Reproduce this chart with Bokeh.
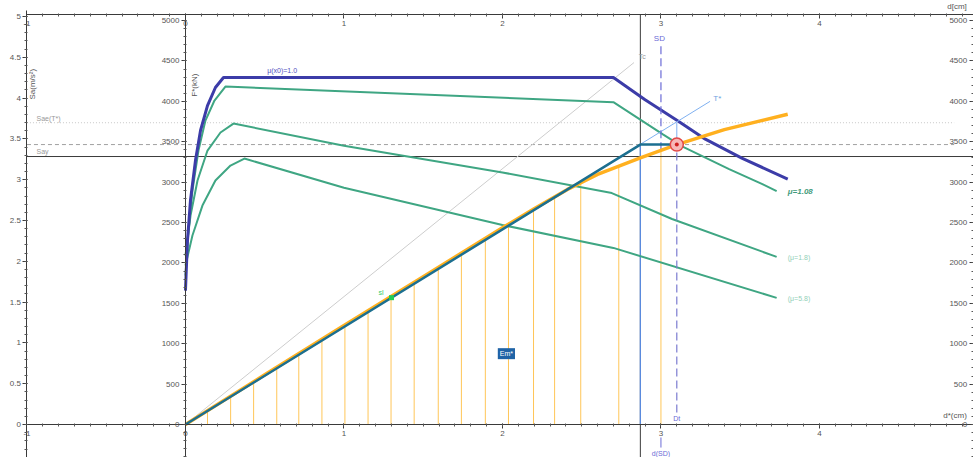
import numpy as np
from bokeh.plotting import figure
from bokeh.models import LinearAxis, Range1d, Label, FixedTicker, CustomJSTickFormatter
from bokeh.embed import file_html
from bokeh.resources import INLINE

# ---------------- data ----------------
x_ticks = [-1, 0, 1, 2, 3, 4]
x_minor = [round(v, 1) for v in np.arange(-1.0, 4.95, 0.1)]
sa_ticks = [0, 0.5, 1, 1.5, 2, 2.5, 3, 3.5, 4, 4.5, 5]
sa_minor = [round(v, 1) for v in np.arange(-0.4, 5.05, 0.1)]
f_ticks = [0, 500, 1000, 1500, 2000, 2500, 3000, 3500, 4000, 4500, 5000]
f_minor = list(range(-400, 5001, 100))

# capacity curves: d* (cm), F* (kN)
navy_d = [0, 0.0126, 0.0315, 0.063, 0.095, 0.139, 0.189, 0.240, 2.70, 2.90, 3.11, 3.28, 3.51, 3.80]
navy_F = [1658, 2277, 2772, 3267, 3639, 3948, 4171, 4295, 4295, 4020, 3754, 3532, 3297, 3038]
g1_d = [0, 0.019, 0.044, 0.082, 0.126, 0.183, 0.252, 2.70, 3.01, 3.13, 3.43, 3.64, 3.73]
g1_F = [1844, 2401, 2896, 3391, 3762, 4010, 4183, 3990, 3594, 3446, 3162, 2976, 2890]
g2_d = [0, 0.032, 0.076, 0.139, 0.221, 0.303, 1.0, 2.0, 2.69, 3.07, 3.73]
g2_F = [2092, 2587, 3020, 3391, 3614, 3725, 3450, 3120, 2865, 2544, 2075]
g3_d = [0, 0.044, 0.107, 0.189, 0.284, 0.372, 1.0, 2.0, 2.70, 3.73]
g3_F = [1968, 2339, 2710, 3020, 3205, 3292, 2930, 2470, 2186, 1568]

orange_d = [0, 0.5, 1.0, 1.5, 2.0, 2.2, 2.41, 2.6, 2.87, 3.10, 3.4, 3.8]
orange_F = [0, 615, 1225, 1830, 2435, 2670, 2910, 3095, 3300, 3465, 3650, 3840]
hatch_d = [0.139, 0.285, 0.430, 0.576, 0.715, 0.861, 1.006, 1.152, 1.297, 1.443,
           1.595, 1.741, 1.892, 2.038, 2.196, 2.329, 2.494, 2.734, 3.0]

d_y, F_y = 2.87, 3465          # bilinear yield point
d_t, F_t = 3.10, 3465          # performance point
d_SD = 3.0
F_SD_top = 4690
F_Sae = 3735
F_Say = 3317
tc_d, tc_F = [0, 2.83], [0, 4480]
tstar_d, tstar_F = [0, 3.31], [0, 4000]
sl_d, sl_F = 1.30, 1570

# ---------------- figure ----------------
X0, X1 = -1.167, 4.972
Y0, Y1 = -408, 5248
p = figure(width=973, height=457, x_range=Range1d(X0, X1), y_range=Range1d(Y0, Y1),
           output_backend="svg", toolbar_location=None, min_border=0,
           x_axis_type=None, y_axis_type=None)
p.outline_line_color = None
p.background_fill_color = "white"
p.extra_y_ranges = {"sa": Range1d(-0.404, 5.196)}

FONT = "Liberation Sans"
TOPF = 5074


def style(ax):
    ax.axis_line_color = "#3a3a3a"
    ax.major_tick_line_color = "#3a3a3a"
    ax.minor_tick_line_color = "#555555"
    ax.major_label_text_font_size = "8px"
    ax.major_label_text_color = "#555555"
    ax.major_label_text_font = FONT
    ax.major_tick_out = 4
    ax.major_tick_in = 1
    ax.minor_tick_out = 2
    ax.minor_tick_in = 1
    ax.major_label_standoff = 2
    ax.formatter = CustomJSTickFormatter(code="return tick.toString()")


sa_ax = LinearAxis(y_range_name="sa", fixed_location=-1.0,
                   ticker=FixedTicker(ticks=sa_ticks, minor_ticks=sa_minor), bounds=(-0.41, 5.07))
style(sa_ax)
p.add_layout(sa_ax, "left")

for loc in [0.0, 4.97]:
    fa = LinearAxis(fixed_location=loc, ticker=FixedTicker(ticks=f_ticks, minor_ticks=f_minor),
                    bounds=(Y0, TOPF))
    style(fa)
    p.add_layout(fa, "left")

for loc in [0.0, TOPF]:
    xa = LinearAxis(fixed_location=loc, ticker=FixedTicker(ticks=x_ticks, minor_ticks=x_minor),
                    bounds=(-1.0, 4.97))
    style(xa)
    p.add_layout(xa, "below")

# hatch of Em*
hatch_top = np.interp(hatch_d, orange_d, orange_F)
p.segment(x0=hatch_d, y0=[0] * len(hatch_d), x1=hatch_d, y1=hatch_top,
          line_color="#ffc658", line_width=1)

# horizontal reference lines
p.segment(x0=[-1.0], y0=[F_Sae], x1=[4.85], y1=[F_Sae], line_color="#c8c8c8",
          line_width=1, line_dash="1 2")
p.segment(x0=[-1.0], y0=[F_y], x1=[4.85], y1=[F_y], line_color="#a0a0a0",
          line_width=1, line_dash="4 3")
p.segment(x0=[-1.0], y0=[F_Say], x1=[4.97], y1=[F_Say], line_color="#3a3a3a", line_width=1)

# Tc line
p.line(tc_d, tc_F, line_color="#cdcdcd", line_width=1)

# vertical at yield displacement
p.segment(x0=[d_y], y0=[Y0], x1=[d_y], y1=[TOPF], line_color="#3a3a3a", line_width=1)
p.segment(x0=[d_y], y0=[0], x1=[d_y], y1=[F_y], line_color="#5b8ee6", line_width=1.2)

# capacity curves
for dd, ff in [(g3_d, g3_F), (g2_d, g2_F), (g1_d, g1_F)]:
    p.line(dd, ff, line_color="#3fa683", line_width=2)
p.line(navy_d, navy_F, line_color="#3c3ca8", line_width=3)

# T* line
p.line(tstar_d, tstar_F, line_color="#7fb0f0", line_width=1)

# SD dashed and Dt dashed
F_SD_bot = float(np.interp(d_SD, orange_d, orange_F))
p.segment(x0=[d_SD], y0=[F_SD_bot], x1=[d_SD], y1=[F_SD_top], line_color="#6b6bd6",
          line_width=1.2, line_dash="8 4")
p.segment(x0=[d_t], y0=[150], x1=[d_t], y1=[F_t], line_color="#7b7bd0",
          line_width=1.2, line_dash="8 4")
p.segment(x0=[d_t], y0=[F_t], x1=[d_t], y1=[F_Sae], line_color="#7fb0f0", line_width=1)

# spectrum (orange)
p.line(orange_d, orange_F, line_color="#ffb01f", line_width=3.5)

# bilinear idealisation
p.line([0, d_y, d_t], [0, F_y, F_t], line_color="#1c6f90", line_width=2.5)

# performance point
p.scatter([d_t], [F_t], size=13, fill_color="#f7b8b8", line_color="#e04848", line_width=1.5)
p.scatter([d_t], [F_t], size=4, fill_color="#d02020", line_color=None)

# point sl
p.scatter([sl_d], [sl_F], size=5, marker="square", fill_color="#22cc55", line_color=None)

# d(SD) tick below axis
p.segment(x0=[d_SD], y0=[-160], x1=[d_SD], y1=[-285], line_color="#6b6bd6", line_width=1)


def lab(x, y, text, color="#777777", size="8px", align="left", baseline="middle",
        angle=0, style="normal", y_range_name="default", bg=None):
    L = Label(x=x, y=y, text=text, text_color=color, text_font_size=size,
              text_font=FONT, text_align=align, text_baseline=baseline,
              angle=angle, text_font_style=style, y_range_name=y_range_name)
    if bg:
        L.background_fill_color = bg
        L.padding = 2
    p.add_layout(L)


lab(-0.965, 4.17, "Sa(m/s²)", color="#555555", align="center", angle=np.pi / 2, y_range_name="sa")
lab(0.054, 4200, "F*(kN)", color="#555555", align="center", angle=np.pi / 2)
lab(-0.94, 3790, "Sae(T*)", color="#999999", size="7px")
lab(-0.94, 3380, "Say", color="#999999", size="7px")
lab(0.61, 4385, "μ(x0)=1.0", color="#5050c0", size="7px", align="center")
lab(2.86, 4550, "Tc", color="#999999", size="7px")
lab(2.99, 4780, "SD", color="#6b6bd6", size="8px", align="center")
lab(3.33, 4040, "T*", color="#6f9fe0", size="8px")
lab(3.80, 2880, "μ=1.08", color="#3f9a7a", size="8px", style="bold italic")
lab(3.80, 2070, "(μ=1.8)", color="#92d0b8", size="7px")
lab(3.80, 1560, "(μ=5.8)", color="#92d0b8", size="7px")
lab(d_t, 30, "Dt", color="#6b6bd6", size="7px", align="center", baseline="bottom")
lab(d_SD, -320, "d(SD)", color="#6b6bd6", size="7px", align="center", baseline="top")
lab(1.25, 1640, "sl", color="#33cc66", size="7px", align="right")
lab(2.025, 877, "Em*", color="white", size="7px", align="center", bg="#1f63a6")
lab(4.93, 60, "d*(cm)", color="#555555", size="8px", align="right", baseline="bottom")
lab(4.93, 5230, "d[cm]", color="#555555", size="8px", align="right", baseline="top")

open("out.html", "w").write(file_html(p, INLINE))
